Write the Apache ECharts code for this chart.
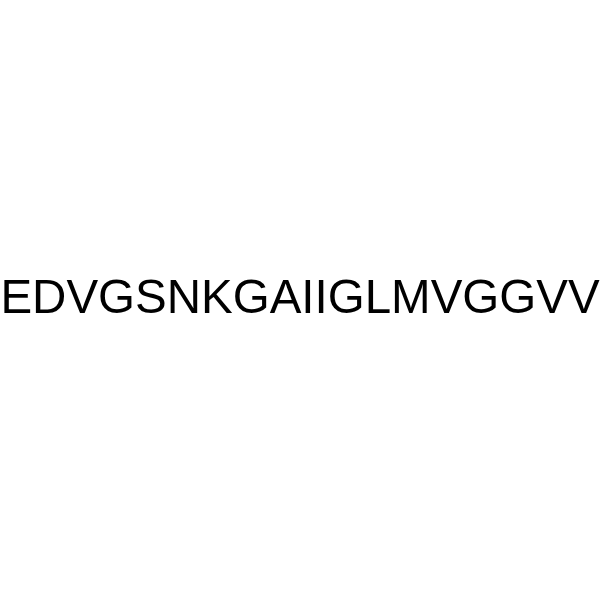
<!DOCTYPE html>
<html>
<head>
<meta charset="utf-8">
<script src="https://cdn.jsdelivr.net/npm/echarts@6/dist/echarts.min.js"></script>
<style>html,body{margin:0;padding:0;background:#fff}#c{width:600px;height:600px}</style>
</head>
<body>
<div id="c"></div>
<script>
const labelText = "EDVGSNKGAIIGLMVGGVV";
const chart = echarts.init(document.getElementById('c'), null, {renderer: 'canvas'});
chart.setOption({
  backgroundColor: '#ffffff',
  animation: false,
  graphic: [{
    type: 'text',
    x: 300,
    y: 300,
    style: {
      text: labelText,
      fontFamily: 'Liberation Sans, Arial, sans-serif',
      fontSize: 47.5,
      fill: '#000000',
      align: 'center',
      verticalAlign: 'middle'
    }
  }]
});
</script>
</body>
</html>
